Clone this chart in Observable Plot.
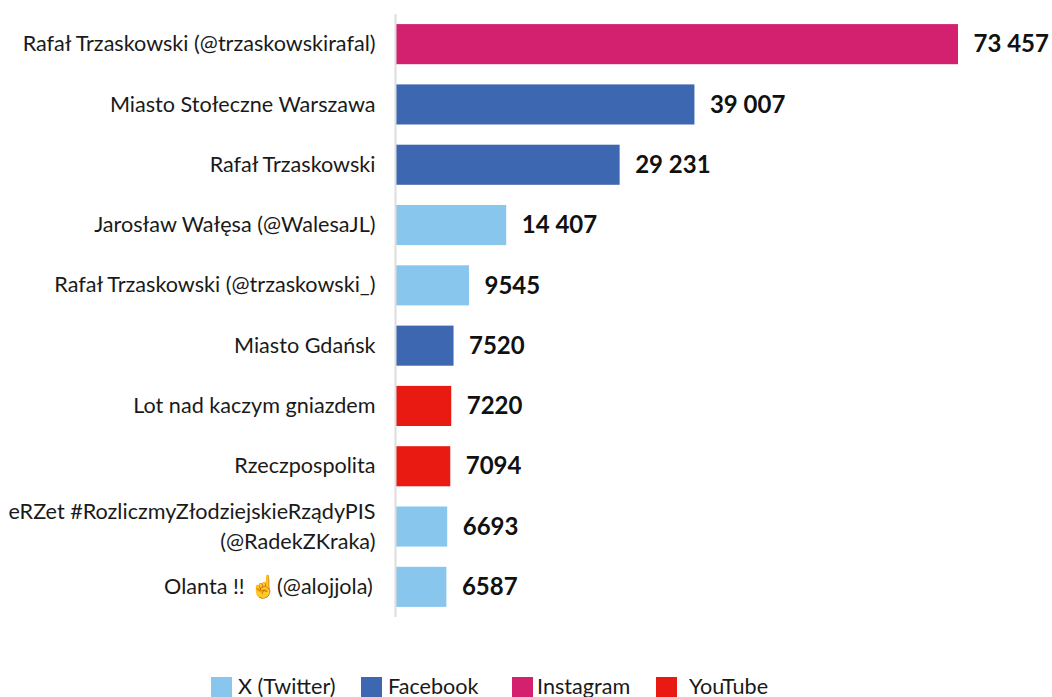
<!DOCTYPE html>
<html lang="pl">
<head>
<meta charset="utf-8">
<style>
  html, body { margin: 0; padding: 0; background: #fff; overflow: hidden; }
  #root { width: 1052px; height: 697px; font-family: Lato, sans-serif; color: #111; }
  #chart svg { display: block; }
  #legend { display: flex; margin: 7px 0 0 211px; font-size: 21.6px; line-height: 20px; color: #1a1a1a; }
  #legend .item { display: flex; align-items: center; }
  #legend .sw { width: 21px; height: 20px; flex: none; }
  #legend span { position: relative; top: -1px; }
</style>
<script src="https://cdn.jsdelivr.net/npm/d3@7"></script>
<script src="https://cdn.jsdelivr.net/npm/@observablehq/plot@0.6"></script>
</head>
<body>
<div id="root"><div id="chart"></div><div id="legend"></div></div>
<script>
const names = [
  "Rafał Trzaskowski (@trzaskowskirafal)",
  "Miasto Stołeczne Warszawa",
  "Rafał Trzaskowski",
  "Jarosław Wałęsa (@WalesaJL)",
  "Rafał Trzaskowski (@trzaskowski_)",
  "Miasto Gdańsk",
  "Lot nad kaczym gniazdem",
  "Rzeczpospolita",
  "eRZet #RozliczmyZłodziejskieRządyPIS\n(@RadekZKraka)",
  "Olanta !! ☝(@alojjola)\u2009"
];
const values = [73457, 39007, 29231, 14407, 9545, 7520, 7220, 7094, 6693, 6587];
const platforms = ["Instagram", "Facebook", "Facebook", "X (Twitter)", "X (Twitter)", "Facebook", "YouTube", "YouTube", "X (Twitter)", "X (Twitter)"];
const legendNames = ["X (Twitter)", "Facebook", "Instagram", "YouTube"];
const legendColors = ["#89C6EE", "#3D67B0", "#D3206F", "#E81A12"];
const legendWidths = [150, 151, 144, 120];
const legendGaps = [6, 6, 4, 12];

const rows = names.map((name, i) => ({name, value: values[i], platform: platforms[i]}));
const fmt = v => v >= 10000 ? d3.format(",")(v).replace(",", " ") : String(v);

const plot = Plot.plot({
  width: 1052,
  height: 670,
  marginLeft: 396,
  marginRight: 94,
  marginTop: 14,
  marginBottom: 53,
  style: {fontFamily: "Lato, sans-serif", background: "#fff"},
  x: {domain: [0, 73457], axis: null},
  y: {domain: names, paddingInner: 0.335, paddingOuter: 0.1675, round: false, label: null},
  color: {domain: legendNames, range: legendColors},
  marks: [
    Plot.barX(rows, {x: "value", y: "name", fill: "platform"}),
    Plot.ruleX([0], {stroke: "#ddd", strokeWidth: 2, dx: -1}),
    Plot.axisY({anchor: "left", tickSize: 0, tickPadding: 21, fontSize: 21.6, lineHeight: 1.39, dy: -3, fill: "#1a1a1a", label: null}),
    Plot.text(rows, {x: "value", y: "name", text: d => fmt(d.value), textAnchor: "start", dx: 15, fontSize: 24, fontWeight: 700, fill: "#111"})
  ]
});
document.getElementById("chart").append(plot);

const legend = d3.select("#legend");
legendNames.forEach((n, i) => {
  const it = legend.append("div").attr("class", "item").style("width", legendWidths[i] + "px");
  it.append("div").attr("class", "sw").style("background", legendColors[i]);
  it.append("span").style("margin-left", legendGaps[i] + "px").text(n);
});
</script>
</body>
</html>
